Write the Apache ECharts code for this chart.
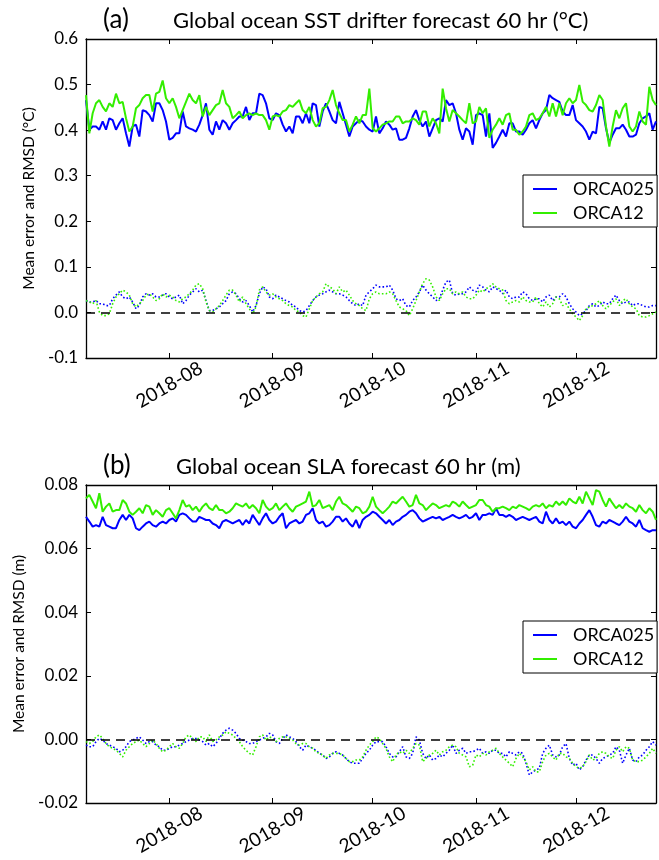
<!DOCTYPE html>
<html>
<head>
<meta charset="utf-8">
<script src="https://cdn.jsdelivr.net/npm/echarts@6/dist/echarts.min.js"></script>
<style>
html,body{margin:0;padding:0;background:#fff}
#chart{width:659px;height:860px}
</style>
</head>
<body>
<div id="chart"></div>
<script>
// Daily verification statistics, 2018-07-07 .. 2018-12-25
const startDay = '2018-07-07';
const monthTicks = ['2018-08-01', '2018-09-01', '2018-10-01', '2018-11-01', '2018-12-01'];
const seriesNames = ['ORCA025', 'ORCA12'];

// SST drifter RMSD (°C)
const sstRmsdOrca025 = [
0.466,0.401,0.408,0.408,0.401,0.419,0.401,0.426,0.422,0.401,
0.415,0.426,0.393,0.364,0.408,0.412,0.386,0.444,0.441,0.433,
0.419,0.459,0.459,0.444,0.419,0.379,0.383,0.393,0.393,0.441,
0.408,0.404,0.401,0.397,0.412,0.433,0.459,0.401,0.390,0.419,
0.401,0.422,0.415,0.401,0.415,0.422,0.430,0.430,0.451,0.422,
0.437,0.437,0.480,0.477,0.459,0.426,0.422,0.437,0.433,0.412,
0.397,0.408,0.393,0.430,0.430,0.415,0.437,0.415,0.459,0.455,
0.408,0.441,0.459,0.441,0.422,0.415,0.462,0.437,0.412,0.386,
0.408,0.415,
0.422,0.419,0.408,0.401,0.397,0.430,0.393,0.404,0.419,0.412,
0.401,0.404,0.379,0.379,0.383,0.404,0.430,0.444,0.422,0.408,
0.419,0.386,0.404,0.422,0.426,0.419,0.466,0.455,0.459,0.437,
0.401,0.379,0.404,0.397,0.368,0.433,0.437,0.433,0.386,0.437,
0.361,0.372,0.386,0.401,0.386,0.415,0.415,0.397,0.397,0.390,
0.401,0.415,0.422,0.404,0.422,0.437,0.444,0.477,0.470,0.466,
0.462,0.441,0.433,0.433,0.455,0.422,0.415,0.408,0.397,0.379,
0.397,0.393,0.451,0.448,0.404,0.372,0.390,0.404,0.404,0.412,
0.401,0.386,0.386,0.390,0.415,0.426,0.430,0.437,0.401,0.419
];
const sstRmsdOrca12 = [
0.477,0.393,
0.437,0.459,0.466,0.451,0.441,0.459,0.451,0.480,0.459,0.462,
0.426,0.397,0.408,0.448,0.455,0.470,0.477,0.477,0.441,0.480,
0.484,0.509,0.470,0.459,0.470,0.451,0.426,0.444,0.462,0.480,
0.466,0.459,0.477,0.430,0.451,0.433,0.444,0.455,0.459,0.488,
0.459,0.451,0.426,0.433,0.441,0.426,0.433,0.437,0.433,0.437,
0.433,0.433,0.422,0.401,0.430,0.433,0.430,0.441,0.444,0.455,
0.451,0.459,0.466,0.444,0.437,0.451,0.422,0.408,0.415,0.448,
0.451,0.466,0.488,0.455,0.437,0.422,0.422,0.397,0.412,0.430,
0.415,0.433,0.433,0.491,0.404,0.397,0.404,0.412,0.415,0.419,
0.419,0.430,0.430,0.415,0.419,0.419,0.426,0.422,0.412,0.441,
0.441,0.408,0.426,0.415,0.393,0.491,0.448,0.419,0.444,0.437,
0.430,0.422,0.415,0.459,0.415,0.419,0.451,0.437,0.448,0.383,
0.401,0.412,0.426,0.412,0.433,0.437,0.401,0.401,0.390,0.397,
0.408,0.433,0.437,0.422,0.426,0.437,0.451,0.430,0.459,0.430,
0.459,0.433,0.459,0.470,0.459,0.466,0.499,0.462,0.455,0.444,
0.441,0.455,0.477,0.466,0.408,0.364,0.408,0.444,0.426,0.448,
0.459,0.408,0.397,0.408,0.441,0.419,0.412,0.495,0.466,0.455
];
// SST drifter mean error (°C)
const sstMeanOrca025 = [
0.026,0.023,0.023,0.026,0.019,0.019,0.015,0.015,0.030,0.038,
0.045,0.034,0.030,0.034,0.023,0.008,0.015,0.034,0.041,0.038,
0.041,0.034,0.034,0.038,0.041,0.034,0.030,0.034,0.038,0.019,
0.026,0.038,0.045,0.052,0.045,0.049,0.026,0.004,0.004,0.008,
0.012,0.019,0.026,0.041,0.045,0.041,0.030,0.023,0.026,0.015,
0.001,0.015,0.041,0.056,0.052,0.034,0.030,0.038,0.034,0.030,
0.026,0.023,0.015,0.012,0.004,0.001,0.004,0.015,0.026,0.034,
0.038,0.041,0.045,0.049,0.045,0.041,0.041,0.038,0.034,0.026,
0.019,0.015,
0.019,0.015,0.038,0.045,0.052,0.060,0.056,0.056,0.056,0.060,
0.049,0.030,0.026,0.030,0.015,0.012,0.026,0.034,0.045,0.060,
0.049,0.041,0.034,0.026,0.030,0.049,0.067,0.071,0.041,0.038,
0.041,0.041,0.045,0.056,0.049,0.045,0.060,0.056,0.049,0.045,
0.056,0.052,0.049,0.041,0.049,0.034,0.030,0.034,0.034,0.045,
0.041,0.030,0.026,0.030,0.030,0.023,0.034,0.038,0.026,0.034,
0.034,0.041,0.034,0.019,0.008,0.001,-0.007,-0.003,0.004,0.015,
0.019,0.012,0.015,0.023,0.019,0.019,0.030,0.038,0.026,0.019,
0.023,0.023,0.015,0.019,0.019,0.015,0.012,0.012,0.015,0.015
];
const sstMeanOrca12 = [
0.026,0.023,0.019,0.026,0.001,-0.007,-0.007,-0.003,0.019,0.034,
0.041,0.049,0.045,0.038,0.019,0.012,0.019,0.026,0.038,0.041,
0.034,0.026,0.030,0.041,0.034,0.038,0.034,0.026,0.023,0.030,
0.034,0.041,0.049,0.060,0.063,0.052,0.023,0.004,0.001,0.008,
0.015,0.026,0.038,0.049,0.049,0.038,0.023,0.034,0.019,0.008,
-0.003,0.012,0.049,0.056,0.045,0.038,0.041,0.034,0.030,0.026,
0.019,0.015,0.012,0.004,0.001,-0.007,-0.010,0.008,0.026,0.034,
0.041,0.045,0.063,0.056,0.052,0.041,0.056,0.045,0.049,0.038,
0.026,0.019,
0.015,0.008,0.004,0.030,0.041,0.045,0.041,0.041,0.041,0.045,
0.041,0.026,0.012,0.008,0.004,-0.007,0.008,0.026,0.045,0.063,
0.074,0.071,0.056,0.034,0.026,0.041,0.052,0.052,0.041,0.045,
0.041,0.045,0.034,0.030,0.030,0.038,0.049,0.045,0.052,0.056,
0.063,0.056,0.052,0.049,0.026,0.019,0.023,0.026,0.023,0.034,
0.026,0.023,0.023,0.034,0.019,0.012,0.023,0.012,0.019,0.034,
0.030,0.015,0.019,0.008,-0.003,-0.010,-0.018,-0.007,0.008,0.012,
0.015,0.019,0.026,0.015,0.008,0.015,0.023,0.030,0.015,0.026,
0.030,0.019,0.012,0.008,-0.007,-0.010,-0.010,-0.007,-0.003,0.001
];

// SLA RMSD (m)
const slaRmsdOrca025 = [
0.0700,0.0685,0.0669,0.0674,0.0669,0.0700,0.0674,0.0669,0.0664,0.0664,
0.0690,0.0706,0.0690,0.0706,0.0695,0.0664,0.0658,0.0669,0.0679,0.0685,
0.0674,0.0669,0.0679,0.0685,0.0679,0.0690,0.0695,0.0685,0.0706,0.0711,
0.0706,0.0695,0.0685,0.0685,0.0700,0.0695,0.0690,0.0690,0.0679,0.0674,
0.0664,0.0685,0.0690,0.0685,0.0679,0.0685,0.0690,0.0674,0.0690,0.0679,
0.0706,0.0690,0.0674,0.0695,0.0711,0.0690,0.0679,0.0685,0.0700,0.0711,
0.0664,0.0679,0.0685,0.0690,0.0679,0.0685,0.0706,0.0711,0.0727,0.0690,
0.0679,0.0685,0.0669,0.0674,0.0685,0.0700,0.0700,0.0685,0.0695,0.0679,
0.0669,0.0690,
0.0664,0.0690,0.0700,0.0706,0.0716,0.0711,0.0700,0.0690,0.0679,0.0690,
0.0674,0.0685,0.0690,0.0700,0.0706,0.0716,0.0721,0.0711,0.0695,0.0685,
0.0690,0.0695,0.0700,0.0695,0.0700,0.0690,0.0695,0.0700,0.0706,0.0700,
0.0695,0.0700,0.0706,0.0695,0.0700,0.0711,0.0690,0.0706,0.0706,0.0711,
0.0706,0.0727,0.0706,0.0706,0.0700,0.0706,0.0700,0.0690,0.0695,0.0700,
0.0695,0.0690,0.0695,0.0700,0.0685,0.0679,0.0716,0.0690,0.0679,0.0695,
0.0679,0.0685,0.0674,0.0685,0.0669,0.0664,0.0679,0.0690,0.0706,0.0721,
0.0700,0.0674,0.0669,0.0685,0.0679,0.0690,0.0685,0.0679,0.0674,0.0685,
0.0700,0.0685,0.0679,0.0669,0.0690,0.0664,0.0658,0.0653,0.0658,0.0658
];
const slaRmsdOrca12 = [
0.0758,0.0769,0.0748,0.0727,0.0774,0.0716,0.0732,0.0742,0.0716,0.0721,
0.0721,0.0753,0.0742,0.0716,0.0706,0.0716,0.0727,0.0711,0.0737,0.0732,
0.0706,0.0721,0.0711,0.0700,0.0721,0.0727,0.0711,0.0695,0.0721,0.0753,
0.0732,0.0737,0.0721,0.0732,0.0716,0.0732,0.0742,0.0727,0.0721,0.0737,
0.0721,0.0721,0.0711,0.0716,0.0727,0.0742,0.0737,0.0732,0.0742,0.0727,
0.0737,0.0727,0.0711,0.0753,0.0732,0.0721,0.0727,0.0742,0.0721,0.0732,
0.0742,0.0727,0.0716,0.0732,0.0737,0.0742,0.0748,0.0779,0.0732,0.0737,
0.0753,0.0727,0.0732,0.0737,0.0721,0.0748,0.0763,0.0742,0.0737,0.0727,
0.0716,0.0732,
0.0727,0.0711,0.0716,0.0732,0.0763,0.0732,0.0721,0.0711,0.0721,0.0732,
0.0748,0.0742,0.0753,0.0763,0.0748,0.0732,0.0737,0.0769,0.0742,0.0737,
0.0721,0.0732,0.0742,0.0737,0.0727,0.0732,0.0737,0.0732,0.0748,0.0742,
0.0732,0.0748,0.0737,0.0727,0.0732,0.0737,0.0753,0.0753,0.0737,0.0732,
0.0716,0.0727,0.0727,0.0732,0.0727,0.0721,0.0732,0.0727,0.0737,0.0732,
0.0727,0.0721,0.0732,0.0737,0.0732,0.0742,0.0727,0.0737,0.0732,0.0748,
0.0737,0.0748,0.0737,0.0758,0.0748,0.0742,0.0763,0.0742,0.0779,0.0758,
0.0737,0.0784,0.0779,0.0753,0.0732,0.0758,0.0742,0.0727,0.0737,0.0727,
0.0742,0.0732,0.0727,0.0716,0.0737,0.0721,0.0711,0.0727,0.0716,0.0690
];
// SLA mean error (m)
const slaMeanOrca025 = [
-0.0018,-0.0023,-0.0023,-0.0007,0.0003,-0.0002,-0.0013,-0.0018,-0.0023,-0.0028,
-0.0039,-0.0034,-0.0023,-0.0007,-0.0002,0.0003,0.0008,-0.0002,-0.0013,-0.0007,
-0.0007,-0.0018,-0.0023,-0.0034,-0.0034,-0.0028,-0.0023,-0.0023,-0.0018,-0.0013,
-0.0007,-0.0002,0.0003,0.0003,-0.0002,-0.0007,-0.0018,-0.0013,-0.0023,-0.0013,
0.0003,0.0019,0.0029,0.0035,0.0029,0.0019,0.0003,-0.0002,-0.0007,-0.0013,
-0.0013,-0.0007,-0.0002,0.0003,0.0008,0.0019,0.0014,-0.0007,-0.0013,0.0003,
0.0014,0.0008,0.0003,-0.0007,-0.0023,-0.0034,-0.0018,-0.0023,-0.0028,-0.0034,
-0.0044,-0.0049,-0.0060,-0.0055,-0.0044,-0.0039,-0.0044,-0.0049,-0.0060,-0.0070,
-0.0075,-0.0075,
-0.0075,-0.0060,-0.0044,-0.0034,-0.0018,-0.0007,-0.0007,-0.0007,-0.0023,-0.0044,
-0.0055,-0.0055,-0.0039,-0.0023,-0.0055,-0.0060,-0.0044,0.0008,-0.0002,-0.0044,
-0.0060,-0.0049,-0.0065,-0.0060,-0.0049,-0.0055,-0.0044,-0.0034,-0.0018,-0.0044,
-0.0034,-0.0028,-0.0044,-0.0039,-0.0039,-0.0034,-0.0028,-0.0044,-0.0039,-0.0044,
-0.0034,-0.0034,-0.0044,-0.0044,-0.0055,-0.0039,-0.0044,-0.0049,-0.0039,-0.0044,
-0.0075,-0.0112,-0.0102,-0.0096,-0.0091,-0.0044,-0.0028,-0.0018,-0.0049,-0.0055,
-0.0049,-0.0023,-0.0013,-0.0060,-0.0081,-0.0075,-0.0096,-0.0086,-0.0065,-0.0049,
-0.0049,-0.0060,-0.0075,-0.0060,-0.0055,-0.0049,-0.0044,-0.0023,-0.0034,-0.0075,
-0.0049,-0.0028,-0.0065,-0.0070,-0.0055,-0.0049,-0.0034,-0.0023,-0.0007,-0.0018
];
const slaMeanOrca12 = [
-0.0007,-0.0013,-0.0007,0.0008,0.0014,0.0003,-0.0013,-0.0023,-0.0028,-0.0034,
-0.0044,-0.0055,-0.0034,-0.0023,-0.0013,-0.0007,-0.0002,-0.0013,-0.0023,-0.0013,
-0.0002,-0.0013,-0.0028,-0.0039,-0.0034,-0.0023,-0.0013,-0.0023,-0.0028,-0.0013,
0.0008,0.0014,0.0003,-0.0007,0.0008,0.0008,-0.0007,0.0014,-0.0007,-0.0002,
0.0008,0.0014,0.0024,0.0019,0.0014,0.0003,-0.0007,-0.0023,-0.0034,-0.0044,
-0.0049,-0.0023,0.0008,0.0014,-0.0002,0.0008,0.0003,-0.0007,0.0003,0.0008,
0.0008,0.0003,-0.0002,-0.0013,-0.0018,-0.0013,-0.0013,-0.0023,-0.0028,-0.0039,
-0.0044,-0.0049,-0.0060,-0.0049,-0.0044,-0.0044,-0.0044,-0.0049,-0.0060,-0.0070,
-0.0070,-0.0065,
-0.0065,-0.0055,-0.0034,-0.0018,-0.0007,0.0008,0.0003,-0.0013,-0.0028,-0.0055,
-0.0070,-0.0049,-0.0039,-0.0044,-0.0034,-0.0044,-0.0028,-0.0013,-0.0018,-0.0070,
-0.0060,-0.0049,-0.0044,-0.0034,-0.0049,-0.0039,-0.0034,-0.0023,-0.0018,-0.0023,
-0.0044,-0.0049,-0.0055,-0.0086,-0.0081,-0.0049,-0.0055,-0.0044,-0.0049,-0.0039,
-0.0034,-0.0028,-0.0044,-0.0055,-0.0065,-0.0075,-0.0086,-0.0060,-0.0044,-0.0055,
-0.0070,-0.0096,-0.0086,-0.0102,-0.0102,-0.0070,-0.0049,-0.0044,-0.0055,-0.0065,
-0.0044,-0.0044,-0.0055,-0.0060,-0.0075,-0.0086,-0.0091,-0.0086,-0.0070,-0.0049,
-0.0065,-0.0060,-0.0044,-0.0039,-0.0044,-0.0055,-0.0060,-0.0034,-0.0023,-0.0039,
-0.0023,-0.0028,-0.0065,-0.0070,-0.0070,-0.0065,-0.0055,-0.0044,-0.0028,-0.0044
];

const BLUE = '#0000ff';
const GREEN = '#33ee00';
const FONT = 'Lato';
const DAY = 86400000;
const t0 = Date.parse(startDay + 'T00:00:00Z');
const tickTimes = monthTicks.map(s => Date.parse(s + 'T00:00:00Z'));

function pairs(values) {
  return values.map((v, i) => [t0 + i * DAY, v]);
}
const tMax = t0 + (sstRmsdOrca025.length - 1) * DAY;

function monthLabel(v) {
  const d = new Date(v);
  return d.getUTCFullYear() + '-' + String(d.getUTCMonth() + 1).padStart(2, '0');
}

// time values on a plain numeric axis, ticks placed on month starts
function xAxes(gridIndex) {
  const common = {
    type: 'value', gridIndex, min: t0, max: tMax, scale: true,
    splitLine: { show: false },
    axisLine: { show: true, onZero: false, lineStyle: { color: '#000', width: 1.3 } },
    axisTick: { show: true, inside: true, length: 5, customValues: tickTimes,
                lineStyle: { color: '#000', width: 1 } }
  };
  return [
    Object.assign({}, common, {
      position: 'bottom',
      axisLabel: { show: true, customValues: tickTimes, formatter: monthLabel,
                   rotate: 30, margin: 27, align: 'center', verticalAlign: 'middle',
                   fontFamily: FONT, fontSize: 19, color: '#000' }
    }),
    Object.assign({}, common, { position: 'top', axisLabel: { show: false } })
  ];
}

function yAxes(gridIndex, min, max, interval, digits, name, nameGap) {
  const common = {
    type: 'value', gridIndex, min, max, interval,
    splitLine: { show: false },
    axisLine: { show: true, onZero: false, lineStyle: { color: '#000', width: 1.3 } },
    axisTick: { show: true, inside: true, length: 5, lineStyle: { color: '#000', width: 1 } }
  };
  return [
    Object.assign({}, common, {
      position: 'left',
      name, nameLocation: 'middle', nameGap,
      nameTextStyle: { fontFamily: FONT, fontSize: 15.5, color: '#000' },
      axisLabel: { show: true, margin: 8, formatter: v => v.toFixed(digits),
                   fontFamily: FONT, fontSize: 17, color: '#000' }
    }),
    Object.assign({}, common, { position: 'right', axisLabel: { show: false } })
  ];
}

function panelSeries(axisIndex, rmsd025, rmsd12, mean025, mean12) {
  const base = { type: 'line', xAxisIndex: axisIndex, yAxisIndex: axisIndex,
                 showSymbol: false, symbol: 'none', silent: true, animation: false };
  return [
    Object.assign({}, base, { name: seriesNames[0], data: pairs(rmsd025),
      lineStyle: { color: BLUE, width: 2 }, itemStyle: { color: BLUE }, z: 3 }),
    Object.assign({}, base, { name: seriesNames[1], data: pairs(rmsd12),
      lineStyle: { color: GREEN, width: 2 }, itemStyle: { color: GREEN }, z: 4 }),
    Object.assign({}, base, { name: seriesNames[0] + ' mean', data: pairs(mean025),
      lineStyle: { color: BLUE, width: 1.6, type: [1.6, 2.2] }, itemStyle: { color: BLUE }, z: 3,
      markLine: { silent: true, symbol: 'none', label: { show: false },
        lineStyle: { color: '#000', width: 1.5, type: [9, 6] },
        data: [{ yAxis: 0 }] } }),
    Object.assign({}, base, { name: seriesNames[1] + ' mean', data: pairs(mean12),
      lineStyle: { color: GREEN, width: 1.6, type: [1.6, 2.2] }, itemStyle: { color: GREEN }, z: 4 })
  ];
}

function legendAt(top) {
  return {
    data: seriesNames, orient: 'vertical', left: 523, top,
    padding: [5, 3, 5, 10], itemGap: 6, itemWidth: 24, itemHeight: 2,
    icon: 'rect', borderColor: '#000', borderWidth: 1, borderRadius: 0,
    backgroundColor: '#fff', selectedMode: false,
    textStyle: { fontFamily: FONT, fontSize: 18, color: '#000', padding: [0, 0, 0, 11], lineHeight: 18 }
  };
}

const chart = echarts.init(document.getElementById('chart'), null, { renderer: 'canvas' });
chart.setOption({
  animation: false,
  backgroundColor: '#fff',
  title: [
    { text: '(a)', left: 98, top: 2, textStyle: { fontFamily: FONT, fontSize: 26, fontWeight: 'normal', color: '#000' } },
    { text: 'Global ocean SST drifter forecast 60 hr (°C)', left: 168, top: 5,
      textStyle: { fontFamily: FONT, fontSize: 22, fontWeight: 'normal', color: '#000' } },
    { text: '(b)', left: 98, top: 448, textStyle: { fontFamily: FONT, fontSize: 26, fontWeight: 'normal', color: '#000' } },
    { text: 'Global ocean SLA forecast 60 hr (m)', left: 171, top: 451,
      textStyle: { fontFamily: FONT, fontSize: 22, fontWeight: 'normal', color: '#000' } }
  ],
  grid: [
    { left: 86, right: 3, top: 39, height: 319 },
    { left: 86, right: 3, top: 485, height: 318 }
  ],
  legend: [legendAt(175), legendAt(621)],
  xAxis: xAxes(0).concat(xAxes(1)),
  yAxis: yAxes(0, -0.1, 0.6, 0.1, 1, 'Mean error and RMSD (°C)', 47)
    .concat(yAxes(1, -0.02, 0.08, 0.02, 2, 'Mean error and RMSD (m)', 56)),
  series: panelSeries(0, sstRmsdOrca025, sstRmsdOrca12, sstMeanOrca025, sstMeanOrca12)
    .concat(panelSeries(2, slaRmsdOrca025, slaRmsdOrca12, slaMeanOrca025, slaMeanOrca12))
});
</script>
</body>
</html>
